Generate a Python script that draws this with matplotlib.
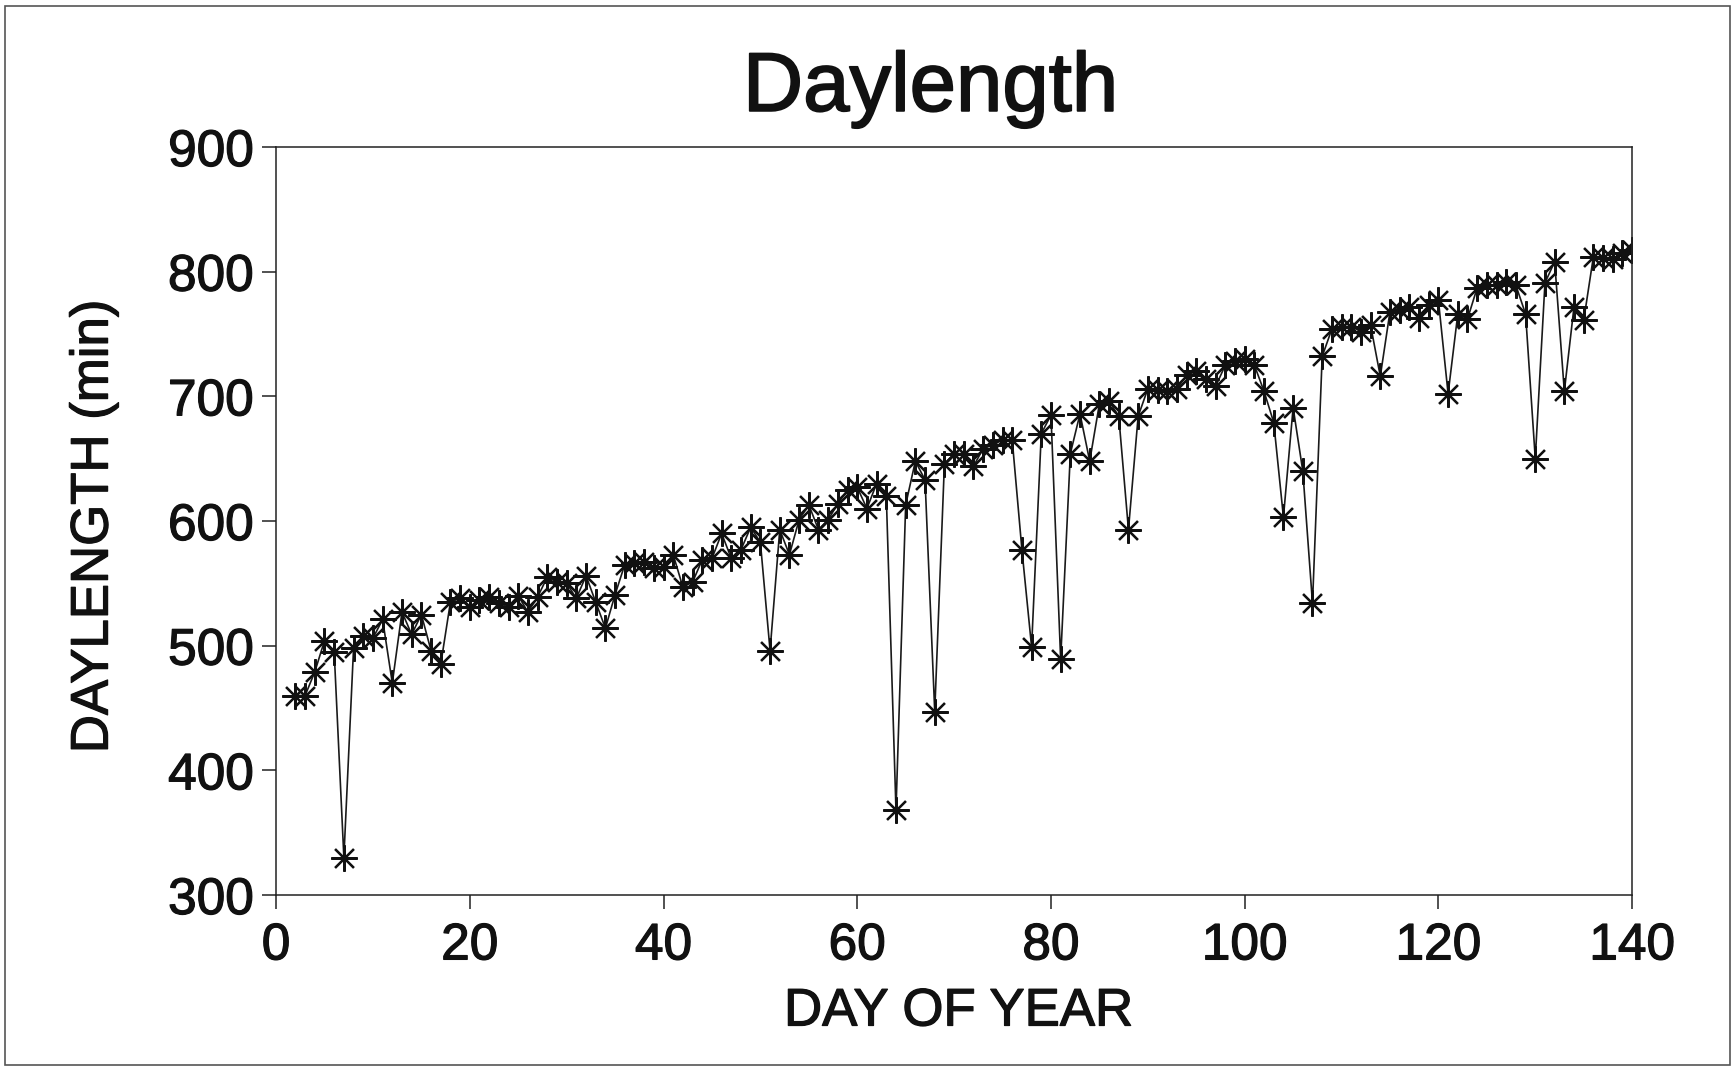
import matplotlib.pyplot as plt
import matplotlib.patheffects as pe
from matplotlib.patches import Rectangle

plt.rcParams['font.family'] = ['Liberation Sans', 'DejaVu Sans']

day = list(range(2, 141))
daylength = [
    460, 460, 479, 504, 495, 330, 498, 508, 506, 521,   # 2-11
    470, 527, 509, 525, 496, 485, 535, 538, 531, 537,   # 12-21
    539, 534, 531, 540, 527, 539, 555, 551, 550, 538,   # 22-31
    556, 535, 514, 541, 565, 566, 567, 562, 563, 573,   # 32-41
    547, 551, 569, 570, 590, 570, 577, 595, 583, 496,   # 42-51
    593, 573, 601, 613, 593, 601, 614, 625, 627, 610,   # 52-61
    630, 620, 368, 613, 648, 633, 447, 646, 654, 654,   # 62-71
    644, 658, 661, 665, 665, 577, 499, 670, 685, 489,   # 72-81
    654, 686, 648, 694, 696, 684, 593, 684, 706, 705,   # 82-91
    704, 706, 717, 720, 714, 708, 725, 728, 730, 725,   # 92-101
    704, 679, 603, 691, 640, 534, 732, 754, 756, 756,   # 102-111
    752, 757, 716, 768, 769, 772, 763, 773, 777, 702,   # 112-121
    766, 762, 787, 789, 789, 792, 789, 766, 650, 791,   # 122-131
    808, 704, 772, 761, 812, 811, 810, 815, 817,        # 132-140
]

x_ticks = [0, 20, 40, 60, 80, 100, 120, 140]
y_ticks = [300, 400, 500, 600, 700, 800, 900]

# the scanned text is a little heavier than Liberation regular
thick = [pe.withStroke(linewidth=0.9, foreground='#111111')]

fig = plt.figure(figsize=(17.33, 10.66), dpi=100)
ax = fig.add_axes([0.1593, 0.1604, 0.7825, 0.7017])

ax.plot(day, daylength, color='#1a1a1a', lw=1.2,
        marker=(8, 2, 0), markersize=19, markeredgewidth=1.6,
        markeredgecolor='#111111')

ax.set_xlim(0, 140)
ax.set_ylim(300, 900)
ax.set_xticks(x_ticks)
ax.set_yticks(y_ticks)
ax.tick_params(direction='out', length=10, width=1.1, labelsize=37,
               color='#222222', labelcolor='#111111')
ax.tick_params(axis='x', pad=9)
ax.tick_params(axis='y', pad=6)
for lab in ax.get_xticklabels() + ax.get_yticklabels():
    lab.set_path_effects(thick)
for s in ax.spines.values():
    s.set_linewidth(1.1)
    s.set_color('#222222')

fig.text(0.537, 0.896, 'Daylength', fontsize=60, ha='center', va='baseline',
         color='#111111', path_effects=[pe.withStroke(linewidth=1.3, foreground='#111111')])
fig.text(0.553, 0.038, 'DAY OF YEAR', fontsize=38, ha='center', va='baseline',
         color='#111111', path_effects=thick)
fig.text(0.054, 0.506, 'DAYLENGTH (min)', fontsize=38, rotation=90,
         ha='center', va='center', color='#111111', path_effects=thick)

# thin frame round the whole picture
fig.add_artist(Rectangle((0.003, 0.001), 0.995, 0.993, transform=fig.transFigure,
                         fill=False, lw=1.2, edgecolor='#555555'))

fig.savefig('out.png', dpi=100, facecolor='white')
